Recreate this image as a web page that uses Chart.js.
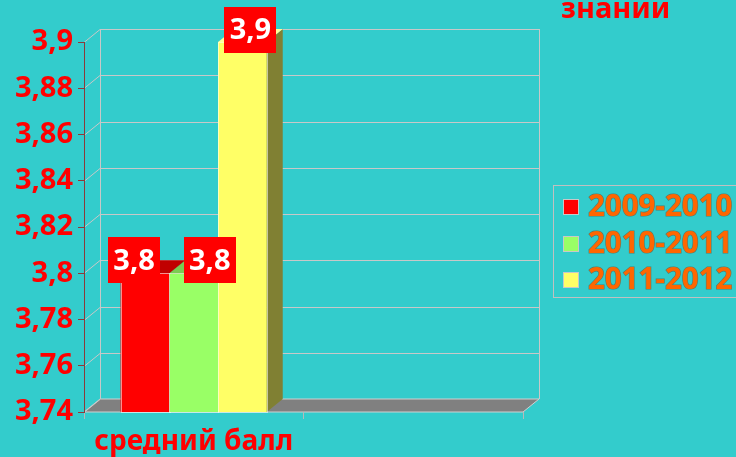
<!DOCTYPE html>
<html><head><meta charset="utf-8">
<script src="https://cdn.jsdelivr.net/npm/chart.js@4/dist/chart.umd.min.js"></script>
<style>html,body{margin:0;padding:0;background:#33CCCC;overflow:hidden}
#wrap{position:relative;width:736px;height:457px}</style>
</head><body><div id="wrap"><canvas id="c" width="736" height="457"></canvas></div>
<script>
// ---- data ----
const categories = ['средний балл', ''];
const seriesNames = ['2009-2010', '2010-2011', '2011-2012'];
const values2009 = [3.8, null];
const values2010 = [3.8, null];
const values2011 = [3.9, null];
const valueLabels = ['3,8', '3,8', '3,9'];
const yTickValues = [3.74, 3.76, 3.78, 3.8, 3.82, 3.84, 3.86, 3.88, 3.9];
const yTickLabels = ['3,74', '3,76', '3,78', '3,8', '3,82', '3,84', '3,86', '3,88', '3,9'];
const titleText = 'знании';

// ---- style ----
const FONT = '"Noto Sans", "Liberation Sans", sans-serif';
const frontColors = ['#FF0000', '#99FF66', '#FFFF66'];
const sideColors = ['#800000', '#4D8033', '#808033'];
const topColors = ['#C00000', '#7ACC52', '#FFFF99'];
const DX = 16, DY = 13;
const labelShift = [[-11, -13], [16, -13], [8, -12]];

function line(ctx, x1, y1, x2, y2) { ctx.beginPath(); ctx.moveTo(x1, y1); ctx.lineTo(x2, y2); ctx.stroke(); }

const threeD = {
  id: 'threeD',
  beforeDraw(chart) {
    const { ctx, chartArea: a, scales: { y } } = chart;
    ctx.save();
    ctx.fillStyle = '#33CCCC';
    ctx.fillRect(0, 0, chart.width, chart.height);
    // floor
    ctx.fillStyle = '#808080';
    ctx.beginPath();
    ctx.moveTo(a.left, a.bottom); ctx.lineTo(a.left + DX, a.bottom - DY);
    ctx.lineTo(a.right + DX, a.bottom - DY); ctx.lineTo(a.right, a.bottom); ctx.closePath();
    ctx.fill();
    ctx.strokeStyle = '#D0D0D0'; ctx.lineWidth = 1;
    ctx.stroke();
    // back wall & side wall grid
    ctx.strokeStyle = '#C8C8C8';
    y.ticks.forEach((t, i) => {
      const py = Math.round(y.getPixelForValue(t.value)) + 0.5;
      line(ctx, a.left, py, a.left + DX, py - DY);
      if (i > 0) line(ctx, a.left + DX, py - DY, a.right + DX, py - DY);
    });
    line(ctx, a.left + DX + 0.5, a.top - DY, a.left + DX + 0.5, a.bottom - DY);
    line(ctx, a.right + DX + 0.5, a.top - DY, a.right + DX + 0.5, a.bottom - DY);
    ctx.restore();
  },
  afterDatasetsDraw(chart) {
    const { ctx, scales: { y } } = chart;
    const floorPx = y.getPixelForValue(y.min);
    ctx.save();
    chart.data.datasets.forEach((ds, i) => {
      const meta = chart.getDatasetMeta(i);
      meta.data.forEach((bar, j) => {
        if (ds.data[j] == null) return;
        const p = bar.getProps(['x', 'y', 'base', 'width'], true);
        const l = p.x - p.width / 2, r = p.x + p.width / 2, t = p.y, b = Math.min(p.base, floorPx);
        // front
        ctx.fillStyle = frontColors[i];
        ctx.fillRect(l, t, r - l, b - t);
        // side
        ctx.fillStyle = sideColors[i];
        ctx.beginPath();
        ctx.moveTo(r, t); ctx.lineTo(r + DX, t - DY); ctx.lineTo(r + DX, b - DY); ctx.lineTo(r, b); ctx.closePath();
        ctx.fill();
        // top
        ctx.fillStyle = topColors[i];
        ctx.beginPath();
        ctx.moveTo(l, t); ctx.lineTo(l + DX, t - DY); ctx.lineTo(r + DX, t - DY); ctx.lineTo(r, t); ctx.closePath();
        ctx.fill();
        ctx.strokeStyle = 'rgba(255,255,255,0.55)'; ctx.lineWidth = 1;
        ctx.strokeRect(Math.round(l) + 0.5, Math.round(t) + 0.5, Math.round(r - l), Math.round(b - t));
      });
    });
    // value labels
    ctx.font = 'bold 29px ' + FONT;
    ctx.textAlign = 'center'; ctx.textBaseline = 'middle';
    chart.data.datasets.forEach((ds, i) => {
      const bar = chart.getDatasetMeta(i).data[0];
      const p = bar.getProps(['x', 'y'], true);
      const cx = p.x + labelShift[i][0], cy = p.y + labelShift[i][1];
      const txt = valueLabels[i];
      const w = ctx.measureText(txt).width + 11, h = 46;
      ctx.fillStyle = '#FF0000';
      ctx.fillRect(Math.round(cx - w / 2), Math.round(cy - h / 2), Math.round(w), h);
      ctx.fillStyle = '#FFFFFF';
      ctx.fillText(txt, cx, cy + 1);
    });
    ctx.restore();
  },
  afterDraw(chart) {
    const { ctx } = chart;
    ctx.save();
    // title (cut at top)
    ctx.font = 'bold 29px ' + FONT;
    ctx.fillStyle = '#FF0000'; ctx.textAlign = 'left'; ctx.textBaseline = 'alphabetic';
    ctx.fillText(titleText, 561, 18);
    // legend
    ctx.strokeStyle = '#C0C0C0'; ctx.lineWidth = 1;
    ctx.strokeRect(553.5, 185.5, 200, 112);
    ctx.font = 'bold 29.5px ' + FONT;
    chart.data.datasets.forEach((ds, i) => {
      const yy = 199 + i * 36.5;
      ctx.fillStyle = frontColors[i];
      ctx.fillRect(563, Math.round(yy), 16, 16);
      ctx.strokeStyle = '#C8C8C8'; ctx.lineWidth = 1;
      ctx.strokeRect(563.5, Math.round(yy) + 0.5, 15, 15);
      ctx.lineWidth = 1.2; ctx.strokeStyle = 'rgba(110,70,40,0.6)';
      ctx.strokeText(ds.label, 588, yy + 17);
      ctx.fillStyle = '#FF6600';
      ctx.fillText(ds.label, 588, yy + 17);
    });
    ctx.restore();
  }
};

new Chart(document.getElementById('c'), {
  type: 'bar',
  data: {
    labels: categories,
    datasets: [
      { label: seriesNames[0], data: values2009, backgroundColor: frontColors[0] },
      { label: seriesNames[1], data: values2010, backgroundColor: frontColors[1] },
      { label: seriesNames[2], data: values2011, backgroundColor: frontColors[2] }
    ]
  },
  options: {
    responsive: false,
    animation: false,
    devicePixelRatio: 1,
    categoryPercentage: 0.665,
    barPercentage: 1,
    layout: { padding: { left: 0, top: 42, right: 213, bottom: 0 } },
    plugins: { legend: { display: false }, tooltip: { enabled: false }, title: { display: false } },
    scales: {
      x: {
        offset: true,
        grid: { display: true, drawOnChartArea: false, drawTicks: true, tickLength: 7, color: '#B8B8B8', offset: true },
        border: { display: false },
        ticks: { color: '#FF0000', font: { family: FONT, size: 28, weight: 'bold' }, padding: 6, maxRotation: 0, autoSkip: false },
        afterFit(s) { s.height = 45; }
      },
      y: {
        min: 3.74, max: 3.9,
        afterBuildTicks(s) { s.ticks = yTickValues.map(v => ({ value: v })); },
        grid: { display: true, drawOnChartArea: false, drawTicks: true, tickLength: 6, color: '#8B3A3A' },
        border: { display: true, color: '#8B3A3A', width: 1 },
        ticks: { color: '#FF0000', font: { family: FONT, size: 29, weight: 'bold' }, padding: 5,
          callback: (v, i) => yTickLabels[i] },
        afterFit(s) { s.width = 84; }
      }
    }
  },
  plugins: [threeD]
});
</script></body></html>
